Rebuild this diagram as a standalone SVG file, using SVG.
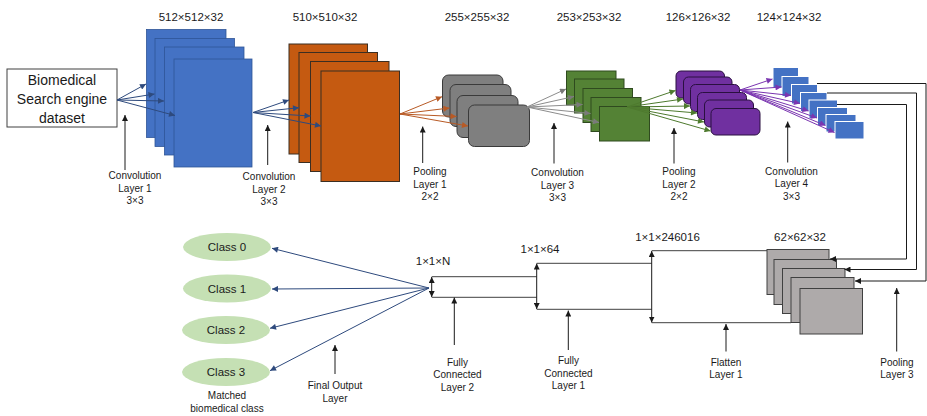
<svg xmlns="http://www.w3.org/2000/svg" width="927" height="416" viewBox="0 0 927 416">
  <style>
    text { font-family: "Liberation Sans", Arial, sans-serif; fill: #1a1a1a; text-anchor: middle; }
    .dim { font-size: 11.5px; }
    .lbl { font-size: 10px; }
    .in { font-size: 14px; }
    .cls { font-size: 11.5px; }
    .blue { fill: #4472C4; stroke: #2F5597; stroke-width: 0.8; }
    .orange { fill: #C55A11; stroke: #3b2e22; stroke-width: 1; }
    .grayA { fill: #7F7F7F; stroke: #3a3a3a; stroke-width: 1; }
    .green { fill: #548235; stroke: #2f4a1f; stroke-width: 1; }
    .purple { fill: #7030A0; stroke: #2a1040; stroke-width: 1; }
    .sblue { fill: #4472C4; stroke: #ffffff; stroke-width: 1; }
    .grayB { fill: #AEAAAA; stroke: #404040; stroke-width: 1; }
    .cell { fill: #C5E0B4; }
    .k { fill: none; stroke: #1a1a1a; stroke-width: 1; }
    .ln { fill: none; stroke: #404040; stroke-width: 1; }
    .navy { fill: none; stroke: #2E4A7D; stroke-width: 1; marker-end: url(#mNavy); }
    .brown { fill: none; stroke: #B85A25; stroke-width: 1; marker-end: url(#mBrown); }
    .gr { fill: none; stroke: #8c8c8c; stroke-width: 1; marker-end: url(#mGray); }
    .gn { fill: none; stroke: #4E7A2E; stroke-width: 1; marker-end: url(#mGreen); }
    .pu { fill: none; stroke: #7A35B0; stroke-width: 1; marker-end: url(#mPurple); }
    .up { fill: none; stroke: #1a1a1a; stroke-width: 1; marker-end: url(#mBlack); }
    .dbl { fill: none; stroke: #1a1a1a; stroke-width: 1; marker-start: url(#mBlack); marker-end: url(#mBlack); }
  </style>
  <defs>
    <marker id="mBlack" viewBox="0 0 10 10" refX="10" refY="5" markerUnits="userSpaceOnUse" markerWidth="6" markerHeight="6" orient="auto-start-reverse"><path d="M0,0 L10,5 L0,10 z" fill="#1a1a1a"/></marker>
    <marker id="mNavy" viewBox="0 0 10 10" refX="10" refY="5" markerUnits="userSpaceOnUse" markerWidth="7" markerHeight="6" orient="auto"><path d="M0,0 L10,5 L0,10 z" fill="#2E4A7D"/></marker>
    <marker id="mBrown" viewBox="0 0 10 10" refX="10" refY="5" markerUnits="userSpaceOnUse" markerWidth="7" markerHeight="6" orient="auto"><path d="M0,0 L10,5 L0,10 z" fill="#B85A25"/></marker>
    <marker id="mGray" viewBox="0 0 10 10" refX="10" refY="5" markerUnits="userSpaceOnUse" markerWidth="7" markerHeight="6" orient="auto"><path d="M0,0 L10,5 L0,10 z" fill="#7a7a7a"/></marker>
    <marker id="mGreen" viewBox="0 0 10 10" refX="10" refY="5" markerUnits="userSpaceOnUse" markerWidth="7" markerHeight="6" orient="auto"><path d="M0,0 L10,5 L0,10 z" fill="#4E7A2E"/></marker>
    <marker id="mPurple" viewBox="0 0 10 10" refX="10" refY="5" markerUnits="userSpaceOnUse" markerWidth="7" markerHeight="6" orient="auto"><path d="M0,0 L10,5 L0,10 z" fill="#7A35B0"/></marker>
  </defs>

  <!-- input dataset -->
  <g id="input">
    <rect x="7" y="69" width="110" height="58" fill="#ffffff" stroke="#404040" stroke-width="1"/>
    <text class="in" x="62" y="84.5">Biomedical</text>
    <text class="in" x="62" y="103.5">Search engine</text>
    <text class="in" x="62" y="122.5">dataset</text>
  </g>

  <!-- convolution layer 1 output -->
  <g id="conv1">
    <rect class="blue" x="146.5" y="29.5" width="79.5" height="108"/>
    <rect class="blue" x="155" y="38.5" width="79.5" height="108"/>
    <rect class="blue" x="164.5" y="47" width="79.5" height="108"/>
    <rect class="blue" x="174" y="59" width="78" height="108"/>
    <text class="dim" x="191" y="21">512×512×32</text>
  </g>

  <!-- convolution layer 2 output -->
  <g id="conv2">
    <rect class="orange" x="289" y="44" width="78.5" height="110"/>
    <rect class="orange" x="299" y="52.5" width="78.5" height="110"/>
    <rect class="orange" x="310.5" y="61.5" width="78.5" height="110"/>
    <rect class="orange" x="321" y="71" width="78.5" height="110.5"/>
    <text class="dim" x="325" y="21">510×510×32</text>
  </g>

  <!-- pooling layer 1 output -->
  <g id="pool1">
    <rect class="grayA" x="442.5" y="75" width="60.5" height="42" rx="6"/>
    <rect class="grayA" x="450" y="84.5" width="61" height="42" rx="6"/>
    <rect class="grayA" x="457" y="95.5" width="61" height="42" rx="6"/>
    <rect class="grayA" x="468.5" y="105" width="61" height="41.5" rx="6"/>
    <text class="dim" x="477" y="21">255×255×32</text>
  </g>

  <!-- convolution layer 3 output -->
  <g id="conv3">
    <rect class="green" x="566.5" y="71" width="49.5" height="34"/>
    <rect class="green" x="574.5" y="79" width="49.5" height="34"/>
    <rect class="green" x="583" y="88.5" width="49.5" height="34"/>
    <rect class="green" x="591" y="97.5" width="50" height="34"/>
    <rect class="green" x="599.5" y="106.5" width="50" height="34.5"/>
    <text class="dim" x="589" y="21">253×253×32</text>
  </g>

  <!-- pooling layer 2 output -->
  <g id="pool2">
    <rect class="purple" x="676" y="71" width="48.5" height="27" rx="5"/>
    <rect class="purple" x="683.5" y="77" width="48.5" height="27" rx="5"/>
    <rect class="purple" x="690.5" y="84.5" width="49" height="27" rx="5"/>
    <rect class="purple" x="697.5" y="92.5" width="49" height="27" rx="5"/>
    <rect class="purple" x="704.5" y="100" width="49" height="27" rx="5"/>
    <rect class="purple" x="711" y="108.5" width="49" height="26.5" rx="5"/>
    <text class="dim" x="698" y="21">126×126×32</text>
  </g>

  <!-- convolution layer 4 output -->
  <g id="conv4">
    <rect class="sblue" x="773" y="67.5" width="25.5" height="20.5"/>
    <rect class="sblue" x="782" y="76.5" width="27" height="20"/>
    <rect class="sblue" x="791.5" y="84.5" width="26" height="19.5"/>
    <rect class="sblue" x="800.5" y="92.5" width="26.5" height="19"/>
    <rect class="sblue" x="809" y="100" width="28.5" height="18.5"/>
    <rect class="sblue" x="817.5" y="107.5" width="30" height="18"/>
    <rect class="sblue" x="826" y="114.5" width="30" height="17.5"/>
    <rect class="sblue" x="835" y="121.5" width="29" height="17.5"/>
    <text class="dim" x="789" y="21">124×124×32</text>
  </g>

  <!-- pooling layer 3 output -->
  <g id="pool3">
    <rect class="grayB" x="767" y="249.5" width="62" height="45"/>
    <rect class="grayB" x="774" y="259.5" width="62.5" height="45"/>
    <rect class="grayB" x="782.5" y="268.5" width="62.5" height="45"/>
    <rect class="grayB" x="791" y="277.5" width="63" height="45"/>
    <rect class="grayB" x="800" y="288.5" width="62.5" height="45.5"/>
    <text class="dim" x="800" y="241">62×62×32</text>
  </g>

  <!-- flatten layer -->
  <g id="flatten">
    <path class="ln" d="M651.7,250.7 H767 M651.7,322.7 H791"/>
    <text class="dim" x="667.5" y="241">1×1×246016</text>
  </g>

  <!-- fully connected layer 1 -->
  <g id="fc1">
    <path class="ln" d="M536.7,263.3 H651.7 M536.7,309.3 H651.7"/>
    <text class="dim" x="540" y="253">1×1×64</text>
  </g>

  <!-- fully connected layer 2 -->
  <g id="fc2">
    <path class="ln" d="M431.7,276.7 H536.7 M431.7,297.3 H536.7"/>
    <text class="dim" x="433" y="265">1×1×N</text>
  </g>

  <!-- output classes -->
  <g id="class0">
    <ellipse class="cell" cx="227" cy="247" rx="44" ry="14"/>
    <text class="cls" x="227" y="251">Class 0</text>
  </g>
  <g id="class1">
    <ellipse class="cell" cx="227" cy="288.5" rx="44" ry="14"/>
    <text class="cls" x="227" y="292.5">Class 1</text>
  </g>
  <g id="class2">
    <ellipse class="cell" cx="226" cy="330" rx="44" ry="14"/>
    <text class="cls" x="226" y="334">Class 2</text>
  </g>
  <g id="class3">
    <ellipse class="cell" cx="226" cy="372" rx="44" ry="14"/>
    <text class="cls" x="226" y="376">Class 3</text>
    <text class="lbl" x="227" y="399">Matched</text>
    <text class="lbl" x="227" y="411.5">biomedical class</text>
  </g>

  <!-- layer captions -->
  <g id="captions">
    <text class="lbl" x="135" y="178.5">Convolution</text>
    <text class="lbl" x="135" y="191.5">Layer 1</text>
    <text class="lbl" x="135" y="203.5">3×3</text>
    <text class="lbl" x="269" y="180">Convolution</text>
    <text class="lbl" x="269" y="193">Layer 2</text>
    <text class="lbl" x="269" y="205">3×3</text>
    <text class="lbl" x="430" y="175">Pooling</text>
    <text class="lbl" x="430" y="187.5">Layer 1</text>
    <text class="lbl" x="430" y="200">2×2</text>
    <text class="lbl" x="557.5" y="176">Convolution</text>
    <text class="lbl" x="557.5" y="188.5">Layer 3</text>
    <text class="lbl" x="557.5" y="200.5">3×3</text>
    <text class="lbl" x="679" y="175">Pooling</text>
    <text class="lbl" x="679" y="187.5">Layer 2</text>
    <text class="lbl" x="679" y="200">2×2</text>
    <text class="lbl" x="791.5" y="175">Convolution</text>
    <text class="lbl" x="791.5" y="187">Layer 4</text>
    <text class="lbl" x="791.5" y="199.5">3×3</text>
    <text class="lbl" x="897" y="366">Pooling</text>
    <text class="lbl" x="897" y="378">Layer 3</text>
    <text class="lbl" x="726" y="366">Flatten</text>
    <text class="lbl" x="726" y="378">Layer 1</text>
    <text class="lbl" x="568.5" y="364">Fully</text>
    <text class="lbl" x="568.5" y="376.5">Connected</text>
    <text class="lbl" x="568.5" y="389">Layer 1</text>
    <text class="lbl" x="457.5" y="365.5">Fully</text>
    <text class="lbl" x="457.5" y="378">Connected</text>
    <text class="lbl" x="457.5" y="390.5">Layer 2</text>
    <text class="lbl" x="335" y="389">Final Output</text>
    <text class="lbl" x="335" y="401.5">Layer</text>
  </g>

  <!-- connectors -->
  <g id="connectors">
    <!-- input to conv1 -->
    <path class="navy" d="M117,100 L146,84"/>
    <path class="navy" d="M117,100 L154.5,94"/>
    <path class="navy" d="M117,100 L164,101"/>
    <path class="navy" d="M117,100 L175,115.5"/>
    <!-- conv1 to conv2 -->
    <path class="navy" d="M253,112.5 L289,100"/>
    <path class="navy" d="M253,112.5 L299,107.7"/>
    <path class="navy" d="M253,112.5 L310.5,116"/>
    <path class="navy" d="M253,112.5 L321,126"/>
    <!-- conv2 to pool1 -->
    <path class="brown" d="M400,114 L442,96.7"/>
    <path class="brown" d="M400,114 L449.5,108"/>
    <path class="brown" d="M400,114 L456.5,116.5"/>
    <path class="brown" d="M400,114 L468,126"/>
    <!-- pool1 to conv3 -->
    <path class="gr" d="M527,107 L566,89"/>
    <path class="gr" d="M527,107 L574,96.5"/>
    <path class="gr" d="M527,107 L582.5,104.5"/>
    <path class="gr" d="M527,107 L590.5,113.5"/>
    <path class="gr" d="M527,107 L599,122.5"/>
    <!-- conv3 to pool2 -->
    <path class="gn" d="M627,107 L675.5,90.5"/>
    <path class="gn" d="M627,107 L683,99"/>
    <path class="gn" d="M627,107 L690,106"/>
    <path class="gn" d="M627,107 L697,113"/>
    <path class="gn" d="M627,107 L704,122"/>
    <path class="gn" d="M627,107 L710.5,131"/>
    <!-- pool2 to conv4 -->
    <path class="pu" d="M740,90 L772.5,79"/>
    <path class="pu" d="M740,90 L781.5,87"/>
    <path class="pu" d="M740,90 L791,95.5"/>
    <path class="pu" d="M740,90 L800,103.5"/>
    <path class="pu" d="M740,90 L808.5,111"/>
    <path class="pu" d="M740,90 L817,118"/>
    <path class="pu" d="M740,90 L825.5,125.5"/>
    <path class="pu" d="M740,90 L834.5,132.5"/>
    <!-- conv4 to pool3 -->
    <path class="up" d="M817,83.5 H926 V281 H855"/>
    <path class="up" d="M827,93 H916.5 V269.5 H844.5"/>
    <path class="up" d="M837,104.5 H906.5 V259 H830"/>
    <!-- dense layer widths -->
    <path class="dbl" d="M651.7,251 V322.5"/>
    <path class="dbl" d="M536.7,263.5 V309"/>
    <path class="dbl" d="M431.7,277 V297"/>
    <!-- fc2 to classes -->
    <path class="navy" d="M429,288 L272,248.3"/>
    <path class="navy" d="M429,288 L272,289"/>
    <path class="navy" d="M429,288 L270,328.3"/>
    <path class="navy" d="M429,288 L270,370.7"/>
    <!-- caption pointers -->
    <path class="up" d="M125,170 V115"/>
    <path class="up" d="M267.7,165 V125"/>
    <path class="up" d="M422.7,163 V126.5"/>
    <path class="up" d="M554,163.5 V123"/>
    <path class="up" d="M674,163.5 V128"/>
    <path class="up" d="M787.7,162.5 V121.5"/>
    <path class="up" d="M896.7,351.5 V288"/>
    <path class="up" d="M726,351.5 V324"/>
    <path class="up" d="M568.3,350 V310.5"/>
    <path class="up" d="M454.3,345 V297.5"/>
    <path class="up" d="M335,374 V345"/>
  </g>
</svg>
